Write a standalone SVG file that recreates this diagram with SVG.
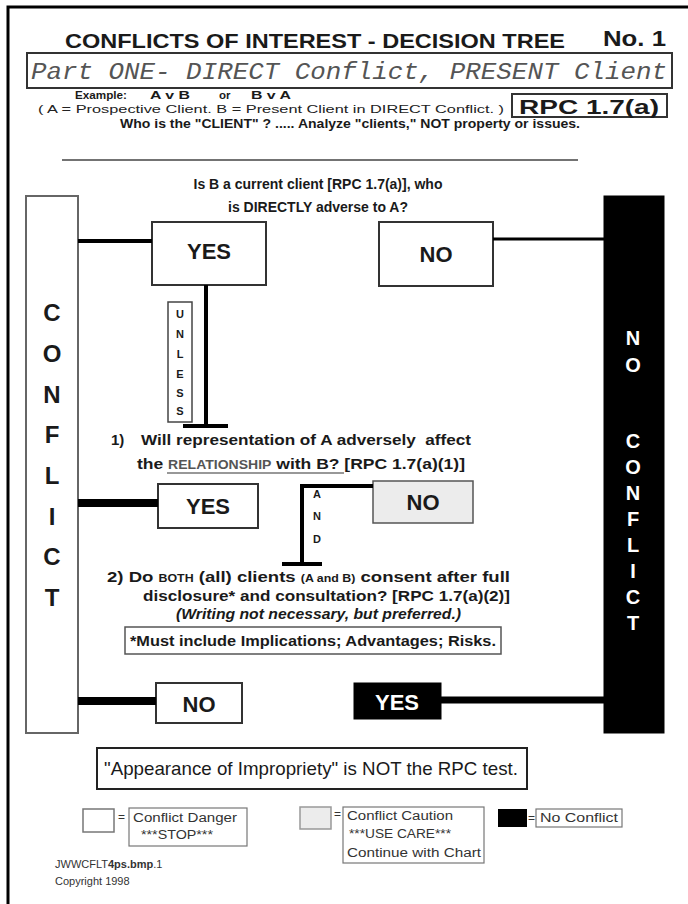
<svg xmlns="http://www.w3.org/2000/svg" width="688" height="904" viewBox="0 0 688 904">
<style>
text{font-family:"Liberation Sans",Arial,sans-serif;fill:#1a1a1a}
.b{font-weight:bold}
.box{fill:#fff;stroke:#333;stroke-width:2}
.gbox{fill:#ececec;stroke:#555;stroke-width:1.5}
.blk{fill:#000;stroke:#000}
.lbl{font-weight:bold;font-size:22px;text-anchor:middle}
.q{font-weight:bold;font-size:14px}
.q2{font-weight:bold;font-size:15px}
.vl{font-weight:bold;font-size:24px;text-anchor:middle}
.vw{font-weight:bold;font-size:20px;text-anchor:middle;fill:#fff}
.sm{font-weight:bold;font-size:11px;text-anchor:middle}
.leg{font-size:12px;fill:#333}
.conn{stroke:#000;fill:none}
</style>
<rect x="0" y="0" width="688" height="904" fill="#fff"/>
<rect x="8" y="7" width="700" height="920" fill="none" stroke="#000" stroke-width="3"/>

<g id="header">
<text x="65" y="48" class="b" font-size="21" textLength="500" lengthAdjust="spacingAndGlyphs">CONFLICTS OF INTEREST - DECISION TREE</text>
<text x="603" y="46" class="b" font-size="22" textLength="63" lengthAdjust="spacingAndGlyphs">No. 1</text>
<rect x="27" y="53" width="645" height="35" fill="#fff" stroke="#333" stroke-width="2"/>
<text x="31" y="79" font-style="italic" font-size="24" style="font-family:'Liberation Mono','Courier New',monospace;fill:#555" textLength="636" lengthAdjust="spacingAndGlyphs">Part ONE- DIRECT Conflict, PRESENT Client</text>
<text x="75" y="99" class="b" font-size="11.5" textLength="52" lengthAdjust="spacingAndGlyphs">Example:</text>
<text x="150" y="99" class="b" font-size="11.5" textLength="40" lengthAdjust="spacingAndGlyphs">A v B</text>
<text x="219" y="99" class="b" font-size="11.5">or</text>
<text x="251" y="99" class="b" font-size="11.5" textLength="40" lengthAdjust="spacingAndGlyphs">B v A</text>
<text x="38" y="113" font-size="11.5" textLength="466" lengthAdjust="spacingAndGlyphs" style="fill:#222">( A = Prospective Client.   B = Present Client in DIRECT Conflict. )</text>
<rect x="512" y="94" width="155" height="23" fill="#fff" stroke="#333" stroke-width="2"/>
<text x="589" y="114" class="b" font-size="21" text-anchor="middle" textLength="140" lengthAdjust="spacingAndGlyphs">RPC 1.7(a)</text>
<text x="120" y="128" class="b" font-size="12" textLength="460" lengthAdjust="spacingAndGlyphs">Who is the "CLIENT" ? ..... Analyze "clients," NOT property or issues.</text>
<line x1="62" y1="160" x2="578" y2="160" stroke="#444" stroke-width="1.5"/>
</g>

<g id="question1">
<text x="318" y="189" class="q" text-anchor="middle">Is B a current client [RPC 1.7(a)],  who</text>
<text x="318" y="212" class="q" text-anchor="middle">is DIRECTLY adverse to A?</text>
</g>

<g id="conflict-bar">
<rect x="26" y="196" width="52" height="537" fill="#fff" stroke="#666" stroke-width="2"/>
<text x="52" y="321" class="vl">C</text>
<text x="52" y="362" class="vl">O</text>
<text x="52" y="403" class="vl">N</text>
<text x="52" y="443" class="vl">F</text>
<text x="52" y="484" class="vl">L</text>
<text x="52" y="525" class="vl">I</text>
<text x="52" y="565" class="vl">C</text>
<text x="52" y="606" class="vl">T</text>
</g>

<g id="noconflict-bar">
<rect x="604" y="196" width="60" height="537" class="blk"/>
<text x="633" y="345" class="vw">N</text>
<text x="633" y="372" class="vw">O</text>
<text x="633" y="448" class="vw">C</text>
<text x="633" y="474" class="vw">O</text>
<text x="633" y="500" class="vw">N</text>
<text x="633" y="526" class="vw">F</text>
<text x="633" y="552" class="vw">L</text>
<text x="633" y="578" class="vw">I</text>
<text x="633" y="604" class="vw">C</text>
<text x="633" y="630" class="vw">T</text>
</g>

<g id="yes1">
<rect x="152" y="222" width="114" height="63" class="box"/>
<text x="209" y="259" class="lbl">YES</text>
</g>
<g id="no1">
<rect x="379" y="222" width="114" height="64" class="box"/>
<text x="436" y="262" class="lbl">NO</text>
</g>

<g id="unless">
<rect x="168" y="302" width="24" height="120" fill="#fff" stroke="#444" stroke-width="1.5"/>
<text x="180" y="318" class="sm">U</text>
<text x="180" y="338" class="sm">N</text>
<text x="180" y="358" class="sm">L</text>
<text x="180" y="378" class="sm">E</text>
<text x="180" y="397" class="sm">S</text>
<text x="180" y="415" class="sm">S</text>
</g>

<g id="question2">
<text x="111" y="445" class="q2">1)</text>
<text x="141" y="445" class="q2" textLength="330" lengthAdjust="spacingAndGlyphs" xml:space="preserve">Will representation of A adversely  affect</text>
<text x="137" y="469" class="q2" textLength="328" lengthAdjust="spacingAndGlyphs">the  <tspan font-size="12" style="fill:#555">RELATIONSHIP</tspan> with B? [RPC 1.7(a)(1)]</text>
<line x1="167" y1="473" x2="344" y2="473" stroke="#333" stroke-width="1.2"/>
</g>

<g id="yes2">
<rect x="158" y="484" width="100" height="44" class="box"/>
<text x="208" y="514" class="lbl" font-size="20">YES</text>
</g>
<g id="no2">
<rect x="373" y="481" width="100" height="42" class="gbox"/>
<text x="423" y="510" class="lbl">NO</text>
</g>
<g id="and">
<text x="317" y="498" class="sm" font-size="12">A</text>
<text x="317" y="520" class="sm" font-size="12">N</text>
<text x="317" y="543" class="sm" font-size="12">D</text>
</g>

<g id="question3">
<text x="107" y="582" class="q2" textLength="403" lengthAdjust="spacingAndGlyphs">2)  Do <tspan font-size="10">BOTH</tspan> (all) clients <tspan font-size="10">(A and B)</tspan> consent   after full</text>
<text x="143" y="601" class="q2" textLength="367" lengthAdjust="spacingAndGlyphs">disclosure* and consultation?  [RPC 1.7(a)(2)]</text>
<text x="176" y="619" class="q2" font-style="italic" textLength="285" lengthAdjust="spacingAndGlyphs">(Writing not necessary, but preferred.)</text>
<rect x="125" y="627" width="376" height="27" fill="#fff" stroke="#555" stroke-width="1.5"/>
<text x="130" y="646" class="q2" textLength="366" lengthAdjust="spacingAndGlyphs">*Must include Implications; Advantages; Risks.</text>
</g>

<g id="no3">
<rect x="156" y="683" width="86" height="40" class="box"/>
<text x="199" y="712" class="lbl">NO</text>
</g>
<g id="yes3">
<rect x="354" y="683" width="87" height="36" class="blk"/>
<text x="397" y="710" class="lbl" style="fill:#fff">YES</text>
</g>

<g id="connectors">
<line x1="78" y1="241" x2="152" y2="241" class="conn" stroke-width="4"/>
<line x1="493" y1="239" x2="604" y2="239" class="conn" stroke-width="3"/>
<line x1="206" y1="285" x2="206" y2="426" class="conn" stroke-width="4"/>
<line x1="183" y1="426" x2="228" y2="426" class="conn" stroke-width="4"/>
<line x1="78" y1="503" x2="158" y2="503" class="conn" stroke-width="8"/>
<polyline points="373,486 302,486 302,564" class="conn" stroke-width="4"/>
<line x1="282" y1="564" x2="322" y2="564" class="conn" stroke-width="4"/>
<line x1="78" y1="701" x2="156" y2="701" class="conn" stroke-width="8"/>
<line x1="441" y1="700" x2="604" y2="700" class="conn" stroke-width="7"/>
</g>

<g id="appearance">
<rect x="97" y="748" width="430" height="41" fill="#fff" stroke="#222" stroke-width="2"/>
<text x="104" y="775" font-size="19" textLength="414" lengthAdjust="spacingAndGlyphs">"Appearance of Impropriety" is NOT the RPC test.</text>
</g>

<g id="legend">
<rect x="83" y="809" width="31" height="23" fill="#fff" stroke="#777" stroke-width="1.5"/>
<text x="118" y="821" class="leg">=</text>
<rect x="129" y="808" width="118" height="38" fill="#fff" stroke="#777" stroke-width="1.2"/>
<text x="133" y="822" class="leg" textLength="104" lengthAdjust="spacingAndGlyphs">Conflict Danger</text>
<text x="141" y="839" class="leg" textLength="72" lengthAdjust="spacingAndGlyphs">***STOP***</text>
<rect x="300" y="807" width="31" height="22" fill="#ececec" stroke="#999" stroke-width="1.5"/>
<text x="334" y="818" class="leg">=</text>
<rect x="343" y="807" width="141" height="56" fill="#fff" stroke="#777" stroke-width="1.2"/>
<text x="347" y="820" class="leg" textLength="106" lengthAdjust="spacingAndGlyphs">Conflict Caution</text>
<text x="349" y="838" class="leg" textLength="102" lengthAdjust="spacingAndGlyphs">***USE CARE***</text>
<text x="347" y="857" class="leg" textLength="134" lengthAdjust="spacingAndGlyphs">Continue with Chart</text>
<rect x="498" y="809" width="29" height="18" fill="#000"/>
<text x="528" y="822" class="leg">=</text>
<rect x="536" y="809" width="86" height="18" fill="#fff" stroke="#777" stroke-width="1.2"/>
<text x="540" y="822" class="leg" textLength="78" lengthAdjust="spacingAndGlyphs">No Conflict</text>
<text x="55" y="868" font-size="11" style="fill:#333">JWWCFLT<tspan font-weight="bold">4ps.bmp</tspan>.1</text>
<text x="55" y="885" font-size="11" style="fill:#333">Copyright  1998</text>
</g>
</svg>
